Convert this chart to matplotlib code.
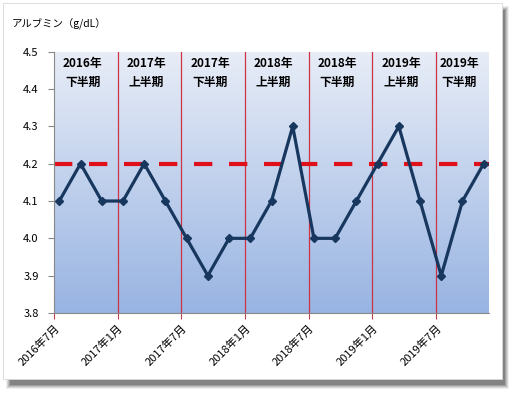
import numpy as np
import matplotlib
matplotlib.use("Agg")
import matplotlib.pyplot as plt
from matplotlib.patches import Rectangle

plt.rcParams['font.family'] = ['Noto Sans CJK JP', 'DejaVu Sans']

# data (months since 2016-07; points at mid-month, every 2 months)
months = [0, 2, 4, 6, 8, 10, 12, 14, 16, 18, 20, 22, 24, 26, 28, 30, 32, 34, 36, 38, 40]
values = [4.1, 4.2, 4.1, 4.1, 4.2, 4.1, 4.0, 3.9, 4.0, 4.0, 4.1, 4.3,
          4.0, 4.0, 4.1, 4.2, 4.3, 4.1, 3.9, 4.1, 4.2]
target = 4.2
tick_months = [0, 6, 12, 18, 24, 30, 36]
tick_labels = ['2016年7月', '2017年1月', '2017年7月', '2018年1月',
               '2018年7月', '2019年1月', '2019年7月']
period_labels = ['2016年\n下半期', '2017年\n上半期', '2017年\n下半期', '2018年\n上半期',
                 '2018年\n下半期', '2019年\n上半期', '2019年\n下半期']
period_bounds = [0, 6, 12, 18, 24, 30, 36, 41]
ylabel = 'アルブミン（g/dL）'

W, H = 518, 395
fig = plt.figure(figsize=(W / 100, H / 100), dpi=100)
fig.patch.set_facecolor('white')

def px_rect(x0, y0, x1, y1, **kw):
    return Rectangle((x0 / W, 1 - y1 / H), (x1 - x0) / W, (y1 - y0) / H,
                     transform=fig.transFigure, **kw)

# soft shadow
for i, a in enumerate([0.10, 0.15, 0.22, 0.30, 0.45]):
    d = 4 - i
    fig.patches.append(px_rect(8 - d + 2, 8 - d + 2, 506 + d - 1, 386 + d - 1,
                               facecolor='#606060', alpha=a, edgecolor='none', zorder=0))
fig.patches.append(px_rect(3, 3, 502, 379, facecolor='white', edgecolor='#d8d8d8',
                           linewidth=0.6, zorder=1))

ax = fig.add_axes([54 / W, 1 - 313 / H, (489 - 54) / W, (313 - 51.7) / H])
ax.set_zorder(2)
ax.set_facecolor('none')

xmin, xmax = 0, 41
ymin, ymax = 3.8, 4.5
ax.set_xlim(xmin, xmax)
ax.set_ylim(ymin, ymax)

# gradient background
grad = np.linspace(0, 1, 256).reshape(-1, 1)
top = np.array([0xe8, 0xed, 0xf7]) / 255
bot = np.array([0x98, 0xb4, 0xe2]) / 255
img = top[None, None, :] * (1 - grad[:, :, None]) + bot[None, None, :] * grad[:, :, None]
ax.imshow(img, extent=[xmin, xmax, ymin, ymax], aspect='auto', origin='upper', zorder=0)

# vertical separators
for m in tick_months[1:]:
    ax.axvline(m, color='#cc3344', lw=0.9, zorder=1)

# target line
ax.axhline(target, color='#e0101a', lw=3.0, dashes=(4.4, 4.0), zorder=2)

# series
xs = [m + 0.5 for m in months]
ax.plot(xs, values, color='#17375e', lw=2.3, marker='D', markersize=4.2,
        markerfacecolor='#17375e', markeredgecolor='#17375e', zorder=3)

# period labels
for i, lab in enumerate(period_labels):
    cx = (period_bounds[i] + period_bounds[i + 1]) / 2 - 0.3
    ax.text(cx, 4.443, lab, ha='center', va='center', fontsize=8.5,
            fontweight='bold', color='black', linespacing=1.55, zorder=4)

ax.set_yticks(np.round(np.arange(3.8, 4.51, 0.1), 1))
ax.set_yticklabels([f'{v:.1f}' for v in np.arange(3.8, 4.51, 0.1)], fontsize=8)
ax.set_xticks(tick_months)
ax.set_xticklabels(tick_labels, rotation=45, ha='right', rotation_mode='anchor', fontsize=8)
ax.tick_params(axis='y', length=4, color='#888888', pad=7)
ax.tick_params(axis='x', length=4, color='#c04050', pad=3)

for s in ['top', 'right']:
    ax.spines[s].set_visible(False)
ax.spines['left'].set_color('#888888')
ax.spines['bottom'].set_color('#888888')
ax.spines['left'].set_linewidth(0.8)
ax.spines['bottom'].set_linewidth(0.8)

fig.text(12 / W, 1 - 24 / H, ylabel, fontsize=7.5, ha='left', va='center', zorder=5)

fig.savefig('out.png', dpi=100)
